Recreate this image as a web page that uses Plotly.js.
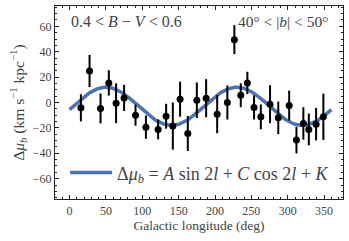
<!DOCTYPE html>
<html>
<head>
<meta charset="utf-8">
<script src="https://cdn.plot.ly/plotly-3.0.1.min.js"></script>
<style>html,body{margin:0;padding:0;background:#fff;}#chart{width:349px;height:241px;}</style>
</head>
<body>
<div id="chart"></div>
<script>
// Galactic longitude of each bin (deg)
const longitude = [15.6, 27.5, 42.6, 54, 64, 75, 90.7, 105, 121.8, 132.8, 142, 152, 162.6, 175, 187.8,
                   203, 217, 226.6, 235.4, 244.5, 253.7, 263, 275.7, 287, 302, 312, 321.5, 329, 339, 349];
// Delta mu_b values (km s^-1 kpc^-1)
const deltaMu = [-4.2, 24.8, -4.7, 15.4, -0.6, 3.6, -10, -19.4, -21.2, -10.8, -18.6, 2.6, -24.4, 1.8, 3.4,
                 -9.2, 0, 49.5, 5.7, 15.4, -3.9, -11.3, -1.3, -12.1, -2.4, -29.6, -16.5, -21.2, -17.1, -11.3];
// 1-sigma errors
const deltaErr = [10.7, 12.6, 11.8, 10, 15.7, 10.3, 8.3, 9.2, 7.9, 9.8, 18.6, 13.8, 13.8, 14, 15,
                  15, 13.4, 11.4, 9.4, 8.8, 9.5, 9.8, 15, 12.8, 11.8, 10.5, 12.8, 12.5, 12.8, 18.3];
// Fit parameters of  A sin 2l + C cos 2l + K
const fitA = 14.77, fitC = -2.6, fitK = -3;
const xTicks = [0, 50, 100, 150, 200, 250, 300, 350];
const yTicks = [-60, -40, -20, 0, 20, 40, 60];

const fitL = [], fitY = [];
for (let l = 0; l <= 360; l += 2) {
  const r = 2 * l * Math.PI / 180;
  fitL.push(l);
  fitY.push(fitA * Math.sin(r) + fitC * Math.cos(r) + fitK);
}

const serif = "Liberation Serif, DejaVu Serif, serif";
const grey = "#444";

const traces = [
  {
    x: fitL, y: fitY, mode: "lines", type: "scatter",
    line: {color: "#4c72b0", width: 3.5},
    name: "Δ<i>μ</i><sub><i>b</i></sub> = <i>A</i> sin 2<i>l</i> + <i>C</i> cos 2<i>l</i> + <i>K</i>",
    showlegend: true
  },
  {
    x: longitude, y: deltaMu, mode: "markers", type: "scatter",
    marker: {color: "#000", size: 7},
    error_y: {type: "data", array: deltaErr, visible: true, color: "#000", thickness: 2, width: 0},
    showlegend: false
  }
];

const axisCommon = {
  showgrid: false, zeroline: false, showline: true, mirror: "ticks",
  linecolor: "#222", linewidth: 1.2,
  ticks: "inside", ticklen: 4, tickwidth: 1, tickcolor: "#222",
  tickfont: {family: serif, size: 12, color: grey},
  minor: {ticks: "inside", ticklen: 2, tickwidth: 1, tickcolor: "#222"}
};

const layout = {
  width: 349, height: 241,
  margin: {l: 55, r: 6, t: 5.5, b: 42},
  paper_bgcolor: "#fff", plot_bgcolor: "#fff",
  showlegend: true,
  legend: {
    x: 0.035, y: 0.04, xanchor: "left", yanchor: "bottom",
    bgcolor: "rgba(0,0,0,0)", borderwidth: 0, itemwidth: 42,
    font: {family: serif, size: 18, color: grey}
  },
  xaxis: Object.assign({}, axisCommon, {
    range: [-20, 376], tickvals: xTicks, ticktext: xTicks.map(String),
    minor: Object.assign({}, axisCommon.minor, {dtick: 10}),
    title: {text: "Galactic longitude (deg)", font: {family: serif, size: 13.5, color: grey}, standoff: 4}
  }),
  yaxis: Object.assign({}, axisCommon, {
    range: [-76, 76], tickvals: yTicks, ticktext: yTicks.map(v => v < 0 ? "−" + Math.abs(v) : String(v)),
    minor: Object.assign({}, axisCommon.minor, {dtick: 5}),
    title: {text: "Δ<i>μ</i><sub><i>b</i></sub> (km s<sup>−1</sup> kpc<sup>−1</sup>)", font: {family: serif, size: 15.5, color: grey}, standoff: 4}
  }),
  annotations: [
    {xref: "paper", yref: "paper", x: 0.05, y: 0.975, xanchor: "left", yanchor: "top", showarrow: false,
     text: "0.4 &lt; <i>B</i> − <i>V</i> &lt; 0.6", font: {family: serif, size: 16, color: grey}},
    {xref: "paper", yref: "paper", x: 0.955, y: 0.975, xanchor: "right", yanchor: "top", showarrow: false,
     text: "40° &lt; |<i>b</i>| &lt; 50°", font: {family: serif, size: 15.5, color: grey}}
  ]
};

Plotly.newPlot("chart", traces, layout, {displayModeBar: false, staticPlot: true});
</script>
</body>
</html>
